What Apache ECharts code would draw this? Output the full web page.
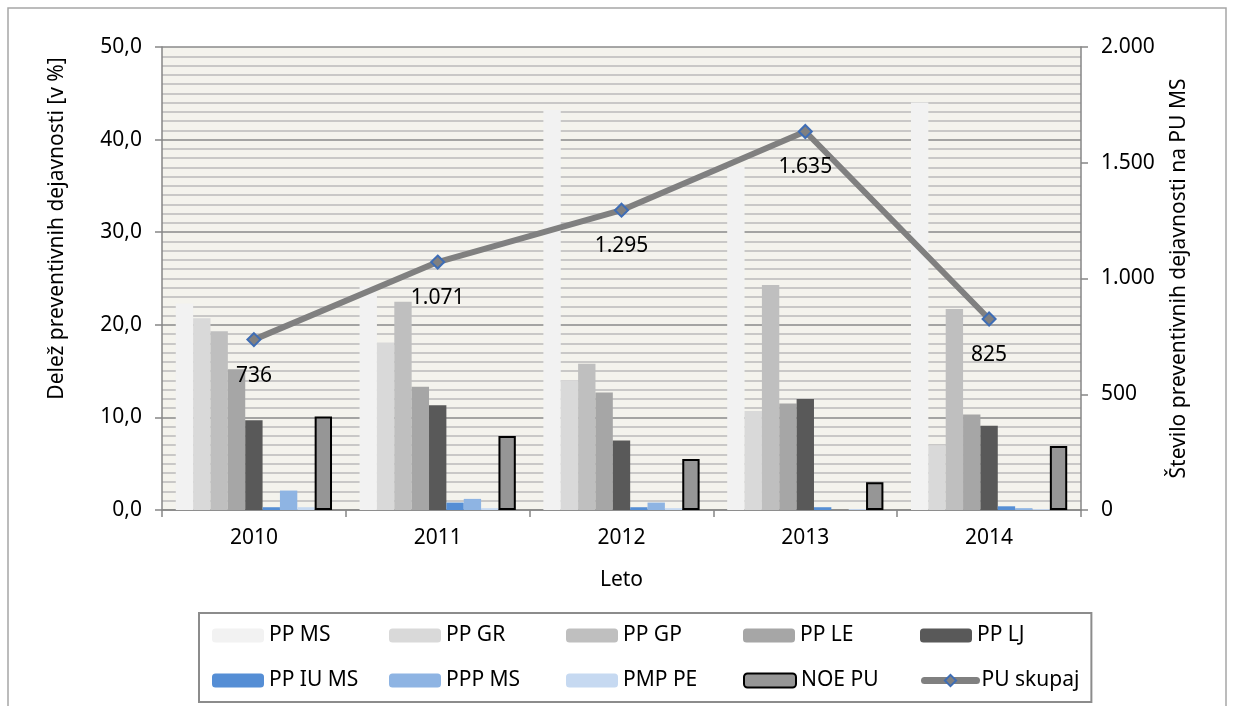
<!DOCTYPE html>
<html>
<head>
<meta charset="utf-8">
<script src="https://cdn.jsdelivr.net/npm/echarts@6/dist/echarts.min.js"></script>
<style>
  html, body { margin: 0; padding: 0; background: #ffffff; }
  #chart { width: 1234px; height: 706px; }
</style>
</head>
<body>
<div id="chart"></div>
<script>
// ---- data ----
const years = ['2010', '2011', '2012', '2013', '2014'];
const ppMS   = [22.3, 24.2, 43.2, 37.1, 44.0];
const ppGR   = [20.7, 18.1, 14.0, 10.7, 7.0];
const ppGP   = [19.3, 22.5, 15.8, 24.3, 21.7];
const ppLE   = [15.2, 13.3, 12.7, 11.5, 10.3];
const ppLJ   = [9.7, 11.3, 7.5, 12.0, 9.1];
const ppIUMS = [0.3, 0.8, 0.3, 0.3, 0.4];
const pppMS  = [2.1, 1.2, 0.8, 0.0, 0.2];
const pmpPE  = [0.3, 0.2, 0.2, 0.1, 0.1];
const noePU  = [10.1, 8.0, 5.5, 3.0, 6.9];
const puSkupaj = [736, 1071, 1295, 1635, 825];
const leftTicks = ['0,0', '10,0', '20,0', '30,0', '40,0', '50,0'];
const rightTicks = ['0', '500', '1.000', '1.500', '2.000'];

const FONT = 'Noto Sans';
const FS = 21;

function fmtThousands(v) {
  return String(Math.round(v)).replace(/\B(?=(\d{3})+(?!\d))/g, '.');
}

const barDefs = [
  ['PP MS', ppMS, '#F2F2F2'],
  ['PP GR', ppGR, '#D9D9D9'],
  ['PP GP', ppGP, '#BFBFBF'],
  ['PP LE', ppLE, '#A6A6A6'],
  ['PP LJ', ppLJ, '#595959'],
  ['PP IU MS', ppIUMS, '#558ED5'],
  ['PPP MS', pppMS, '#8EB4E3'],
  ['PMP PE', pmpPE, '#C6D9F1'],
];

const series = barDefs.map(([name, data, color]) => ({
  name, type: 'bar', data, yAxisIndex: 0,
  barGap: '0%', barCategoryGap: '15%',
  itemStyle: { color },
  emphasis: { disabled: true }
}));
series.push({
  name: 'NOE PU', type: 'bar', data: noePU, yAxisIndex: 0,
  barGap: '0%', barCategoryGap: '15%',
  itemStyle: { color: '#969696', borderColor: '#000000', borderWidth: 2 },
  emphasis: { disabled: true }
});
series.push({
  name: 'PU skupaj', type: 'line', data: puSkupaj, yAxisIndex: 1,
  symbol: 'diamond', symbolSize: 13,
  lineStyle: { color: '#808080', width: 6 },
  itemStyle: { color: '#808080', borderColor: '#3E6DB5', borderWidth: 2 },
  label: {
    show: true, position: 'bottom', distance: 18,
    fontFamily: FONT, fontSize: FS, color: '#000',
    formatter: p => fmtThousands(p.value)
  },
  z: 5,
  emphasis: { disabled: true }
});

const legendData = series.map(s => s.name === 'PU skupaj'
  ? { name: s.name, lineStyle: { width: 7, color: '#808080', cap: 'round' },
      itemStyle: { color: '#808080', borderColor: '#3E6DB5', borderWidth: 2 } }
  : { name: s.name });

const chart = echarts.init(document.getElementById('chart'), null, { renderer: 'canvas' });
chart.setOption({
  animation: false,
  backgroundColor: '#ffffff',
  textStyle: { fontFamily: FONT },
  graphic: [
    { type: 'rect', shape: { x: 8, y: 8, width: 1218, height: 720 },
      style: { fill: null, stroke: '#a6a6a6', lineWidth: 1.5 }, z: -10, silent: true }
  ],
  grid: {
    left: 162, right: 153, top: 47, bottom: 196,
    show: true, backgroundColor: '#F4F3ED', borderWidth: 0
  },
  legend: {
    left: 199, top: 613, width: 900,
    padding: [12, 12, 11, 13],
    borderColor: '#8c8c8c', borderWidth: 2,
    itemWidth: 52, itemHeight: 14, itemGap: 24,
    textStyle: { fontFamily: FONT, fontSize: FS, color: '#000', width: 96, lineHeight: 20 },
    data: legendData
  },
  xAxis: {
    type: 'category', data: years,
    name: 'Leto', nameLocation: 'middle', nameGap: 60,
    nameTextStyle: { fontFamily: FONT, fontSize: FS, color: '#000' },
    axisLine: { lineStyle: { color: '#868686', width: 1.5 } },
    axisTick: { show: true, alignWithLabel: false, length: 7, lineStyle: { color: '#868686', width: 1.5 } },
    axisLabel: { fontFamily: FONT, fontSize: FS, color: '#000', margin: 18 }
  },
  yAxis: [
    {
      type: 'value', min: 0, max: 50, interval: 10, position: 'left',
      name: 'Delež preventivnih dejavnosti [v %]', nameLocation: 'middle', nameGap: 94, nameRotate: 90,
      nameTextStyle: { fontFamily: FONT, fontSize: FS, color: '#000', padding: [0, 0, 0, 100] },
      axisLine: { show: true, lineStyle: { color: '#868686', width: 1.5 } },
      axisTick: { show: true, inside: false, length: 7, lineStyle: { color: '#868686', width: 1.5 } },
      axisLabel: { fontFamily: FONT, fontSize: FS, color: '#000', margin: 20,
        formatter: v => leftTicks[Math.round(v / 10)] },
      splitLine: { show: true, lineStyle: { color: '#8A8A8A', width: 1.5 } },
      minorTick: { show: false, splitNumber: 10 },
      minorSplitLine: { show: true, lineStyle: { color: '#BBBBBB', width: 1.5 } }
    },
    {
      type: 'value', min: 0, max: 2000, interval: 500, position: 'right',
      name: 'Število preventivnih dejavnosti na PU MS', nameLocation: 'middle', nameGap: 88, nameRotate: 90,
      nameTextStyle: { fontFamily: FONT, fontSize: FS, color: '#000' },
      axisLine: { show: true, lineStyle: { color: '#868686', width: 1.5 } },
      axisTick: { show: true, inside: false, length: 7, lineStyle: { color: '#868686', width: 1.5 } },
      axisLabel: { fontFamily: FONT, fontSize: FS, color: '#000', margin: 20,
        formatter: v => rightTicks[Math.round(v / 500)] },
      splitLine: { show: false }
    }
  ],
  series
});
</script>
</body>
</html>
